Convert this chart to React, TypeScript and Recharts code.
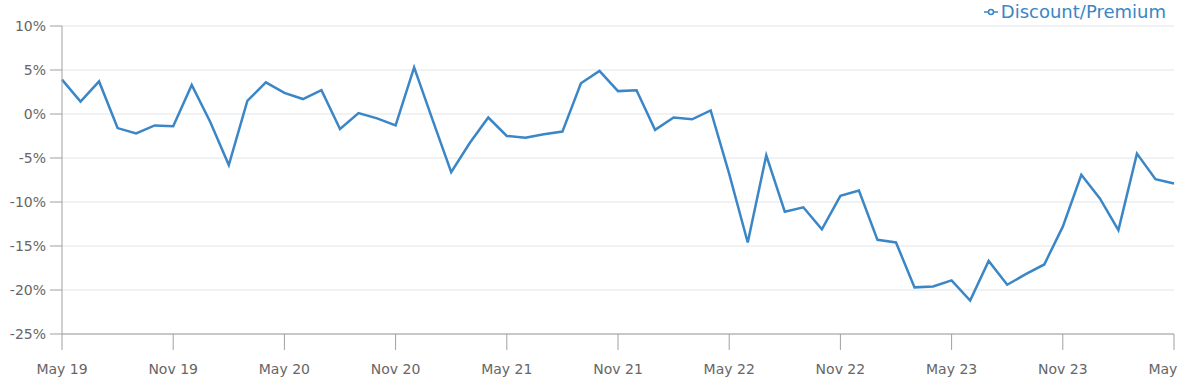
import React from "react"
import { LineChart, Line, XAxis, YAxis, CartesianGrid } from "recharts"

const years = ["19", "20", "21", "22", "23", "24"]
const monthNames = ["Jan", "Feb", "Mar", "Apr", "May", "Jun", "Jul", "Aug", "Sep", "Oct", "Nov", "Dec"]

// monthly labels, May 19 .. May 24
const months: string[] = []
for (let y = 0; y < years.length; y++) {
    for (let m = 0; m < 12; m++) {
        if (y === 0 && m < 4) continue
        if (y === years.length - 1 && m > 4) continue
        months.push(`${monthNames[m]} ${years[y]}`)
    }
}

const discountPremium = [
    3.9, 1.4, 3.7, -1.6, -2.2, -1.3, -1.4, 3.3, -0.9, -5.8,
    1.5, 3.6, 2.4, 1.7, 2.7, -1.7, 0.1, -0.5, -1.3, 5.3,
    -0.7, -6.6, -3.3, -0.4, -2.5, -2.7, -2.3, -2.0, 3.5, 4.9,
    2.6, 2.7, -1.8, -0.4, -0.6, 0.4, -6.8, -14.6, -4.7, -11.1,
    -10.6, -13.1, -9.3, -8.7, -14.3, -14.6, -19.7, -19.6, -18.9, -21.2,
    -16.7, -19.4, -18.2, -17.1, -12.8, -6.9, -9.6, -13.2, -4.5, -7.4,
    -7.9,
]

const yTicks = [10, 5, 0, -5, -10, -15, -20, -25]

const data = months.map((month, i) => ({ month, value: discountPremium[i] }))

const font = "'DejaVu Sans', sans-serif"
const lineColor = "#3a86c6"

export default function App() {
    return (
        <div style={{ position: "absolute", left: 0, top: 0, width: 1181, height: 382, overflow: "hidden", background: "#fff" }}>
            <LineChart width={1200} height={382} data={data} margin={{ top: 26, right: 26, left: 0, bottom: 0 }}>
                <CartesianGrid vertical={false} stroke="#e2e4e8" />
                <XAxis
                    dataKey="month"
                    interval={5}
                    height={48}
                    tickSize={16}
                    tick={{ fontSize: 14, fill: "#666", fontFamily: font }}
                    tickMargin={14}
                    axisLine={{ stroke: "#a0a0a0" }}
                    tickLine={{ stroke: "#a0a0a0" }}
                />
                <YAxis
                    domain={[-25, 10]}
                    ticks={yTicks}
                    width={62}
                    tickSize={12}
                    tickMargin={4}
                    tickFormatter={(v) => `${v}%`}
                    tick={{ fontSize: 14, fill: "#666", fontFamily: font }}
                    axisLine={{ stroke: "#a0a0a0" }}
                    tickLine={{ stroke: "#a0a0a0" }}
                />
                <Line
                    type="linear"
                    dataKey="value"
                    stroke={lineColor}
                    strokeWidth={2.5}
                    dot={false}
                    isAnimationActive={false}
                />
            </LineChart>
            <div
                style={{
                    position: "absolute",
                    right: 15,
                    top: 1,
                    display: "flex",
                    alignItems: "center",
                    fontFamily: font,
                    fontSize: 18,
                    color: lineColor,
                }}
            >
                <svg width={14} height={10} style={{ marginRight: 3 }}>
                    <line x1={0} y1={5} x2={14} y2={5} stroke={lineColor} strokeWidth={1.5} />
                    <circle cx={7} cy={5} r={2.5} fill="#fff" stroke={lineColor} strokeWidth={1.5} />
                </svg>
                <span>Discount/Premium</span>
            </div>
        </div>
    )
}
